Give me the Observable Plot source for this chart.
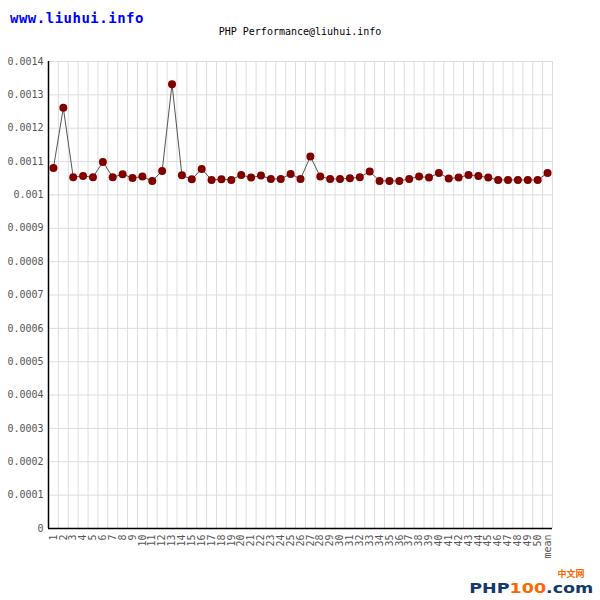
<!DOCTYPE html>
<html>
<head>
<meta charset="utf-8">
<script src="https://cdn.jsdelivr.net/npm/d3@7"></script>
<script src="https://cdn.jsdelivr.net/npm/@observablehq/plot@0.6"></script>
<style>
  html, body { margin: 0; padding: 0; background: #fff; }
  #wrap { position: relative; width: 600px; height: 600px; }
  #overlay { position: absolute; left: 0; top: 0; pointer-events: none; }
</style>
</head>
<body>
<div id="wrap">
  <div id="chart"></div>
  <svg id="overlay" width="600" height="600">
    <text x="10" y="22.7" font-family="DejaVu Sans Mono" font-weight="bold" font-size="14" letter-spacing="0.5" fill="#0000ff">www.liuhui.info</text>
    <text x="300" y="34.7" text-anchor="middle" font-family="DejaVu Sans Mono" font-size="10" fill="#000">PHP Performance@liuhui.info</text>
    <text x="557.5" y="576.8" font-family="Noto Sans CJK SC" font-weight="bold" font-size="9" fill="#ff6600">中文网</text>
    <text x="469.3" y="592.7" font-family="DejaVu Sans" font-weight="bold" font-size="14" textLength="124" lengthAdjust="spacingAndGlyphs"><tspan fill="#143a6d">PHP</tspan><tspan fill="#ff6600">100</tspan><tspan fill="#143a6d">.com</tspan></text>
  </svg>
</div>
<script>
// Run labels (x tick labels)
const runs = ["1","2","3","4","5","6","7","8","9","10",
  "11","12","13","14","15","16","17","18","19","20",
  "21","22","23","24","25","26","27","28","29","30",
  "31","32","33","34","35","36","37","38","39","40",
  "41","42","43","44","45","46","47","48","49","50","mean"];

// Execution time per run (seconds)
const times = [0.001081, 0.001261, 0.001053, 0.001057, 0.001053, 0.001099, 0.001053, 0.001062, 0.001051, 0.001055,
  0.001042, 0.001072, 0.001332, 0.001059, 0.001047, 0.001078, 0.001045, 0.001047, 0.001045, 0.001060,
  0.001052, 0.001058, 0.001048, 0.001048, 0.001063, 0.001048, 0.001115, 0.001055, 0.001048, 0.001048,
  0.001050, 0.001053, 0.001070, 0.001042, 0.001042, 0.001042, 0.001048, 0.001055, 0.001052, 0.001066,
  0.001049, 0.001052, 0.001060, 0.001057, 0.001052, 0.001045, 0.001045, 0.001045, 0.001045, 0.001045,
  0.001066];

// Y tick values
const yTicks = [0, 0.0001, 0.0002, 0.0003, 0.0004, 0.0005, 0.0006, 0.0007,
  0.0008, 0.0009, 0.001, 0.0011, 0.0012, 0.0013, 0.0014];

const data = runs.map((r, i) => ({pos: i + 1, run: r, time: times[i]}));
const positions = data.map(d => d.pos);
const boundaries = positions.map(p => p + 0.5);

const fmtY = v => String(+v.toFixed(4));

const chart = Plot.plot({
  width: 600,
  height: 600,
  marginTop: 61,
  marginBottom: 72,
  marginLeft: 48,
  marginRight: 48,
  style: {fontFamily: "DejaVu Sans Mono", fontSize: "10px", background: "transparent", overflow: "visible"},
  x: {type: "linear", domain: [0.5, runs.length + 0.5], axis: null},
  y: {domain: [0, 0.0014], axis: null},
  marks: [
    Plot.ruleY(yTicks.filter(v => v > 0), {stroke: "#dddddd", strokeOpacity: 1}),
    Plot.ruleX(boundaries, {stroke: "#dddddd", strokeOpacity: 1}),
    Plot.axisY(yTicks, {tickSize: 0, tickPadding: 5, tickFormat: fmtY, fill: "#555", anchor: "left", label: null}),
    Plot.axisX(positions, {tickSize: 0, tickPadding: 6, tickRotate: -90, tickFormat: p => runs[p - 1], fill: "#555", anchor: "bottom", label: null}),
    Plot.ruleX([0.5], {stroke: "#000", strokeWidth: 1.5}),
    Plot.ruleY([0], {stroke: "#000", strokeWidth: 1.5}),
    Plot.line(data, {x: "pos", y: "time", stroke: "#555", strokeWidth: 1}),
    Plot.dot(data, {x: "pos", y: "time", r: 4, fill: "#800000", stroke: "none"})
  ]
});
document.getElementById("chart").appendChild(chart);
</script>
</body>
</html>
